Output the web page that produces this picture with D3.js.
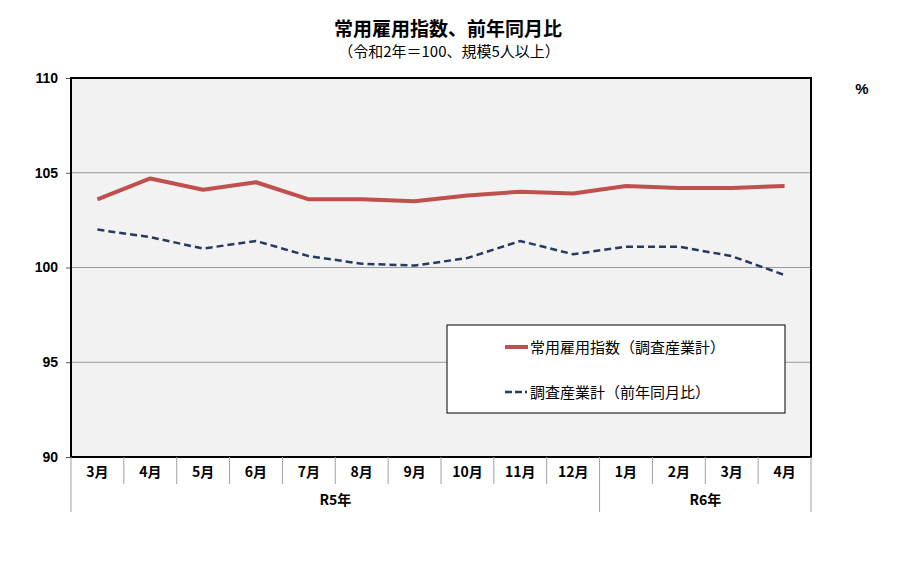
<!DOCTYPE html>
<html><head><meta charset="utf-8">
<script src="https://cdn.jsdelivr.net/npm/d3@7"></script>
<style>
body{margin:0;background:#fff;}
text{font-family:"Liberation Sans","Noto Sans CJK JP",sans-serif;}
.jp{font-family:"Noto Sans CJK JP",sans-serif;}
</style></head>
<body><svg id="c" width="900" height="587"></svg>
<script>
const months = ["3月","4月","5月","6月","7月","8月","9月","10月","11月","12月","1月","2月","3月","4月"];
const years = [{label:"R5年", start:0, end:10},{label:"R6年", start:10, end:14}];
const indexSeries = [103.6,104.7,104.1,104.5,103.6,103.6,103.5,103.8,104.0,103.9,104.3,104.2,104.2,104.3];
const yoySeries = [102.0,101.6,101.0,101.4,100.6,100.2,100.1,100.5,101.4,100.7,101.1,101.1,100.6,99.6];
const yTicks = [90,95,100,105,110];
const seriesNames = ["常用雇用指数（調査産業計）","調査産業計（前年同月比）"];
const title = "常用雇用指数、前年同月比";
const subtitle = "（令和2年＝100、規模5人以上）";

const svg = d3.select("#c");
const L=71, R=811, T=78, B=457;
const x = d3.scaleBand().domain(d3.range(months.length)).range([L,R]).padding(0);
const y = d3.scaleLinear().domain([90,110]).range([B,T]);
const cx = i => x(i)+x.bandwidth()/2;

svg.append("text").attr("x",448).attr("y",36).attr("text-anchor","middle").attr("class","jp")
  .attr("font-size",19).attr("font-weight","bold").text(title);
svg.append("text").attr("x",449).attr("y",57).attr("text-anchor","middle").attr("class","jp")
  .attr("font-size",15).text(subtitle);
svg.append("text").attr("x",862).attr("y",94).attr("text-anchor","middle")
  .attr("font-size",15).attr("font-weight","bold").text("%");

svg.append("rect").attr("x",L).attr("y",T).attr("width",R-L).attr("height",B-T).attr("fill","#f2f2f2");

// gridlines
svg.append("g").selectAll("line").data(yTicks.filter(t=>t>90&&t<110)).join("line")
  .attr("x1",L).attr("x2",R).attr("y1",d=>y(d)).attr("y2",d=>y(d))
  .attr("stroke","#9a9a9a").attr("stroke-width",1);

// y axis
const ya = svg.append("g").attr("transform",`translate(${L},0)`)
  .call(d3.axisLeft(y).tickValues(yTicks).tickSize(5).tickPadding(8));
ya.select(".domain").remove();
ya.selectAll("line").attr("stroke","#555");
ya.selectAll("text").attr("font-size",14).attr("font-weight","bold").attr("fill","#000")
  .style("font-family","'Liberation Sans',sans-serif");

// lines
const line = d3.line().x((d,i)=>cx(i)).y(d=>y(d));
svg.append("path").datum(yoySeries).attr("d",line).attr("fill","none")
  .attr("stroke","#243a5e").attr("stroke-width",2.5).attr("stroke-dasharray","7,4");
svg.append("path").datum(indexSeries).attr("d",line).attr("fill","none")
  .attr("stroke","#c0504d").attr("stroke-width",4).attr("stroke-linejoin","round");

// border
svg.append("rect").attr("x",L).attr("y",T).attr("width",R-L).attr("height",B-T)
  .attr("fill","none").attr("stroke","#000").attr("stroke-width",2);

// category separators
const seps = d3.range(1,months.length).filter(i=>!years.some(g=>g.start===i));
svg.append("g").selectAll("line").data(seps).join("line")
  .attr("x1",i=>x(i)).attr("x2",i=>x(i)).attr("y1",B).attr("y2",484)
  .attr("stroke","#a0a0a0").attr("stroke-width",1);
const gseps = [0, ...years.map(g=>g.end)];
svg.append("g").selectAll("line").data(gseps).join("line")
  .attr("x1",i=>i===months.length?R:x(i)).attr("x2",i=>i===months.length?R:x(i))
  .attr("y1",B).attr("y2",512).attr("stroke","#a0a0a0").attr("stroke-width",1);

svg.append("g").selectAll("text").data(months).join("text").attr("class","jp")
  .attr("x",(d,i)=>cx(i)).attr("y",477).attr("text-anchor","middle")
  .attr("font-size",14).attr("font-weight","bold").text(d=>d);
svg.append("g").selectAll("text").data(years).join("text").attr("class","jp")
  .attr("x",g=>((x(g.start))+(g.end===months.length?R:x(g.end)))/2).attr("y",505)
  .attr("text-anchor","middle").attr("font-size",14).attr("font-weight","bold").text(g=>g.label);

// legend
const lg = svg.append("g");
lg.append("rect").attr("x",447).attr("y",325).attr("width",338).attr("height",88)
  .attr("fill","#fff").attr("stroke","#000").attr("stroke-width",1);
lg.append("line").attr("x1",505).attr("x2",528).attr("y1",347).attr("y2",347)
  .attr("stroke","#c0504d").attr("stroke-width",4);
lg.append("line").attr("x1",505).attr("x2",527).attr("y1",392).attr("y2",392)
  .attr("stroke","#243a5e").attr("stroke-width",2.5).attr("stroke-dasharray","7,3");
lg.append("text").attr("class","jp").attr("x",530).attr("y",353).attr("font-size",15).text(seriesNames[0]);
lg.append("text").attr("class","jp").attr("x",530).attr("y",398).attr("font-size",15).text(seriesNames[1]);
</script></body></html>
